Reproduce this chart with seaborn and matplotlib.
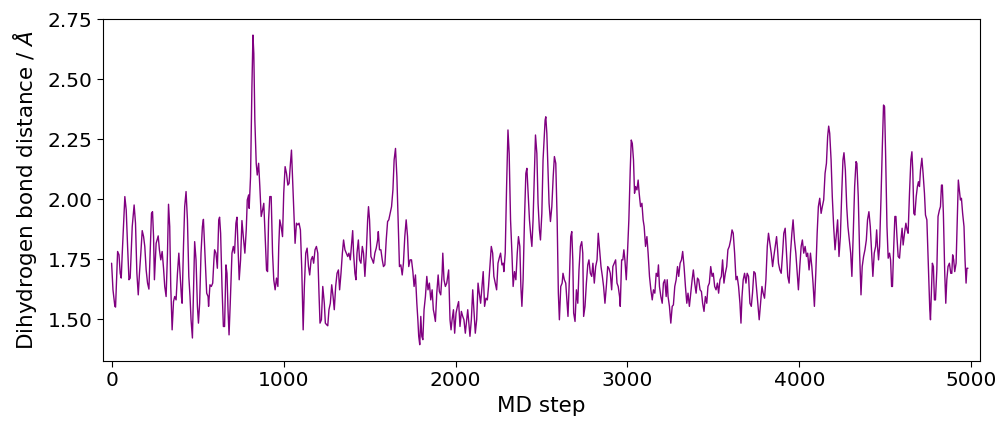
import numpy as np
import pandas as pd
import matplotlib
matplotlib.use("Agg")
import matplotlib.pyplot as plt
import seaborn as sns

# MD step values (local turning points)
steps = [
    0, 8, 19, 23, 35, 43, 50, 56, 62, 77, 85, 93, 101, 108, 120, 131, 139, 147, 155, 162,
    170, 178, 186, 193, 201, 209, 217, 224, 232, 238, 244, 249, 259, 271, 278, 286, 294, 302, 309, 317,
    325, 331, 338, 344, 352, 360, 367, 375, 383, 391, 398, 406, 410, 418, 425, 433, 441, 449, 456, 462,
    470, 477, 483, 491, 499, 505, 512, 520, 528, 534, 541, 553, 561, 564, 572, 580, 588, 595,
    599, 607, 615, 623, 628, 634, 642, 650, 657, 665, 671, 677, 683, 690, 700, 708, 715, 723, 729, 735,
    742, 750, 758, 766, 775, 783, 789, 797, 800, 808, 816, 822, 827, 833, 841, 847, 855, 862, 870, 878,
    885, 893, 901, 907, 913, 920, 928, 936, 943, 951, 959, 967, 972, 978, 986, 994, 1001, 1009, 1017, 1025,
    1032, 1040, 1046, 1052, 1059, 1067, 1075, 1083, 1090, 1098, 1106, 1114, 1121, 1129, 1137, 1145, 1152, 1160, 1168, 1175,
    1183, 1191, 1199, 1206, 1212, 1220, 1228,
    1237, 1243, 1251, 1257, 1264, 1272, 1280, 1288, 1295, 1303, 1311, 1319, 1326, 1334, 1342, 1349, 1357, 1365, 1373, 1380,
    1388, 1396, 1402, 1407, 1415, 1421, 1427, 1435, 1442, 1450, 1458, 1465, 1473, 1481, 1489, 1494, 1500, 1508, 1516, 1523,
    1531, 1539, 1547, 1551, 1558, 1566, 1574, 1581, 1589, 1597, 1605, 1612, 1620, 1628, 1636, 1643, 1651, 1659, 1667, 1674,
    1682, 1690, 1697, 1705, 1713, 1721, 1728, 1736, 1744, 1752, 1759, 1767, 1775, 1781, 1786, 1792, 1798, 1804, 1810, 1817,
    1825, 1833, 1840, 1848, 1856, 1864, 1871,
    1875, 1883, 1891, 1899, 1906, 1914, 1922, 1926, 1933, 1941, 1949, 1957, 1960, 1968, 1974, 1980, 1988, 1995, 2003, 2011,
    2018, 2026, 2034, 2042, 2049, 2057, 2065, 2071, 2076, 2084, 2092, 2100, 2107, 2115, 2123, 2131, 2138, 2146, 2154, 2161,
    2169, 2177, 2185, 2192, 2200, 2208, 2216, 2223, 2231, 2239, 2247, 2254, 2262, 2270, 2277, 2281, 2289, 2297, 2305, 2312,
    2320, 2328, 2335, 2343, 2351, 2359, 2366, 2374, 2380, 2386, 2393, 2401, 2409, 2415, 2422, 2430, 2438, 2444, 2451, 2459,
    2465, 2473, 2480, 2488, 2494, 2502, 2509,
    2521, 2525, 2531, 2537, 2544, 2552, 2560, 2568, 2575, 2583, 2591, 2598, 2604, 2612, 2620, 2625, 2633, 2641, 2649, 2654,
    2662, 2670, 2676, 2682, 2687, 2695, 2703, 2711, 2718, 2726, 2734, 2740, 2745, 2753, 2761, 2769, 2776, 2784, 2792, 2799,
    2807, 2815, 2823, 2830, 2838, 2846, 2854, 2861, 2869, 2877, 2885, 2892, 2900, 2908, 2915, 2923, 2931, 2939, 2946, 2954,
    2958, 2966, 2973, 2979, 2985, 2993, 3000, 3008, 3016, 3022, 3028, 3035, 3041, 3047, 3055, 3062, 3068, 3076, 3084, 3091,
    3097, 3105, 3113, 3120, 3128, 3136, 3144,
    3151, 3159, 3167, 3175, 3180, 3186, 3194, 3202, 3209, 3217, 3225, 3231, 3236, 3244, 3252, 3260, 3267, 3275, 3283, 3291,
    3298, 3306, 3314, 3321, 3329, 3337, 3345, 3352, 3360, 3368, 3376, 3383, 3391, 3399, 3407, 3414, 3422, 3430, 3437, 3445,
    3453, 3461, 3468, 3476, 3484, 3492, 3499, 3507, 3515, 3523, 3530, 3538, 3546, 3553, 3561, 3569, 3577, 3584, 3592, 3600,
    3608, 3615, 3623, 3631, 3638, 3646, 3654, 3660, 3666, 3673, 3681, 3689, 3696, 3704, 3712, 3720, 3727, 3735, 3743, 3751,
    3758, 3766, 3774, 3782,
    3789, 3797, 3805, 3813, 3820, 3828, 3836, 3844, 3851, 3859, 3867, 3873, 3878, 3886, 3894, 3902, 3909, 3917, 3925, 3932,
    3940, 3948, 3956, 3963, 3971, 3979, 3987, 3994, 4002, 4010, 4017, 4025, 4033, 4041, 4048, 4056, 4064, 4072, 4079, 4087,
    4095, 4103, 4110, 4118, 4126, 4133, 4141, 4149, 4157, 4164, 4170, 4176, 4184, 4191, 4199, 4207, 4215, 4222, 4230, 4238,
    4246, 4253, 4259, 4267, 4275, 4282, 4290, 4298, 4305, 4313, 4321, 4329, 4334, 4342, 4350, 4358, 4365, 4373, 4381, 4389,
    4396, 4404, 4412, 4420,
    4427, 4435, 4443, 4449, 4454, 4460, 4466, 4474, 4482, 4489, 4495, 4501, 4509, 4516, 4524, 4530, 4536, 4541, 4547, 4555,
    4561, 4567, 4574, 4582, 4590, 4597, 4603, 4611, 4619, 4626, 4632, 4640, 4648, 4654, 4659, 4665, 4671, 4679, 4686, 4692,
    4698, 4704, 4712, 4719, 4727, 4733, 4741, 4746, 4752, 4758, 4762, 4768, 4773, 4779, 4785, 4791, 4799, 4806, 4814, 4820,
    4826, 4831, 4837, 4845, 4851, 4857, 4864, 4872, 4880, 4886, 4891, 4897, 4903, 4911, 4918, 4924, 4930, 4936, 4942, 4949,
    4957, 4963, 4969, 4974, 4980,
]

# Dihydrogen bond distance values (Angstrom)
distance = [
    1.733, 1.622, 1.553, 1.550, 1.782, 1.768, 1.691, 1.671, 1.775, 2.011, 1.955, 1.803, 1.664, 1.671, 1.886, 1.976, 1.900, 1.691, 1.601, 1.691,
    1.775, 1.869, 1.844, 1.803, 1.705, 1.650, 1.625, 1.775, 1.941, 1.948, 1.844, 1.664, 1.816, 1.847, 1.789, 1.747, 1.782, 1.712, 1.636, 1.594,
    1.775, 1.979, 1.886, 1.636, 1.455, 1.573, 1.594, 1.580, 1.691, 1.775, 1.691, 1.594, 1.566, 1.803, 1.969, 2.032, 1.914, 1.678, 1.594, 1.497,
    1.421, 1.636, 1.823, 1.747, 1.553, 1.483, 1.566, 1.775, 1.886, 1.916, 1.803, 1.608, 1.594, 1.553, 1.643, 1.636, 1.650, 1.747,
    1.789, 1.775, 1.712, 1.914, 1.925, 1.858, 1.636, 1.469, 1.469, 1.726, 1.691, 1.539, 1.434, 1.566, 1.775, 1.803, 1.775, 1.900, 1.925, 1.803,
    1.664, 1.747, 1.911, 1.844, 1.775, 1.872, 1.997, 2.018, 1.962, 2.094, 2.469, 2.685, 2.608, 2.330, 2.150, 2.101, 2.150, 2.053, 1.928, 1.955,
    1.983, 1.844, 1.705, 1.698, 1.914, 2.011, 2.011, 1.775, 1.664, 1.622, 1.671, 1.636, 1.803, 1.914, 1.886, 1.844, 2.025, 2.136, 2.108, 2.059,
    2.066, 2.150, 2.205, 2.094, 1.969, 1.816, 1.900, 1.893, 1.900, 1.872, 1.705, 1.455, 1.636, 1.775, 1.796, 1.719, 1.684, 1.747, 1.761, 1.733,
    1.789, 1.803, 1.775, 1.608, 1.483, 1.497, 1.636,
    1.566, 1.483, 1.476, 1.472, 1.539, 1.566, 1.643, 1.594, 1.539, 1.636, 1.691, 1.705, 1.622, 1.691, 1.775, 1.830, 1.789, 1.775, 1.761, 1.775,
    1.747, 1.816, 1.869, 1.775, 1.691, 1.664, 1.775, 1.830, 1.747, 1.733, 1.803, 1.775, 1.678, 1.775, 1.914, 1.969, 1.914, 1.761, 1.747, 1.733,
    1.775, 1.796, 1.830, 1.865, 1.789, 1.789, 1.747, 1.719, 1.726, 1.830, 1.907, 1.914, 1.941, 1.969, 2.039, 2.164, 2.212, 2.094, 1.886, 1.719,
    1.726, 1.684, 1.733, 1.844, 1.914, 1.844, 1.719, 1.747, 1.747, 1.698, 1.636, 1.684, 1.566, 1.497, 1.428, 1.393, 1.511, 1.428, 1.414, 1.539,
    1.594, 1.678, 1.622, 1.650, 1.580, 1.622, 1.539,
    1.525, 1.490, 1.608, 1.684, 1.615, 1.601, 1.691, 1.775, 1.664, 1.636, 1.650, 1.691, 1.705, 1.497, 1.455, 1.497, 1.539, 1.441, 1.525, 1.553,
    1.573, 1.469, 1.532, 1.511, 1.497, 1.441, 1.497, 1.539, 1.497, 1.428, 1.497, 1.622, 1.539, 1.441, 1.497, 1.650, 1.608, 1.566, 1.636, 1.698,
    1.553, 1.587, 1.580, 1.636, 1.719, 1.803, 1.775, 1.678, 1.650, 1.622, 1.733, 1.754, 1.775, 1.726, 1.733, 1.698, 1.775, 2.053, 2.289, 2.191,
    1.914, 1.775, 1.636, 1.698, 1.664, 1.775, 1.844, 1.803, 1.636, 1.553, 1.664, 1.914, 2.108, 2.129, 2.025, 1.914, 1.844, 1.803, 1.914, 2.122,
    2.268, 2.191, 1.983, 1.872, 1.830, 1.941, 2.164,
    2.330, 2.344, 2.275, 2.136, 1.983, 1.907, 1.969, 2.094, 2.178, 2.150, 1.914, 1.608, 1.497, 1.636, 1.650, 1.691, 1.664, 1.650, 1.566, 1.511,
    1.664, 1.844, 1.865, 1.747, 1.525, 1.490, 1.622, 1.566, 1.705, 1.803, 1.823, 1.775, 1.511, 1.553, 1.650, 1.726, 1.747, 1.691, 1.678, 1.733,
    1.650, 1.719, 1.747, 1.858, 1.789, 1.719, 1.678, 1.636, 1.566, 1.636, 1.719, 1.712, 1.691, 1.622, 1.719, 1.733, 1.747, 1.650, 1.636, 1.594,
    1.553, 1.747, 1.747, 1.789, 1.747, 1.664, 1.775, 1.914, 2.122, 2.247, 2.233, 2.164, 2.025, 2.053, 2.039, 2.080, 2.025, 1.969, 1.983, 1.914,
    1.886, 1.803, 1.844, 1.775, 1.678, 1.622, 1.580,
    1.622, 1.608, 1.691, 1.678, 1.726, 1.636, 1.594, 1.566, 1.650, 1.664, 1.594, 1.664, 1.594, 1.553, 1.483, 1.553, 1.559, 1.636, 1.664, 1.719,
    1.678, 1.733, 1.747, 1.782, 1.719, 1.636, 1.566, 1.608, 1.553, 1.608, 1.664, 1.705, 1.650, 1.608, 1.671, 1.664, 1.622, 1.615, 1.566, 1.532,
    1.594, 1.566, 1.636, 1.650, 1.719, 1.678, 1.691, 1.636, 1.622, 1.650, 1.608, 1.664, 1.678, 1.747, 1.650, 1.691, 1.719, 1.789, 1.803, 1.830,
    1.872, 1.858, 1.775, 1.664, 1.678, 1.636, 1.566, 1.483, 1.594, 1.664, 1.691, 1.650, 1.691, 1.678, 1.566, 1.553, 1.608, 1.698, 1.691, 1.622,
    1.566, 1.497, 1.566, 1.636,
    1.608, 1.587, 1.664, 1.803, 1.858, 1.816, 1.775, 1.719, 1.761, 1.803, 1.844, 1.789, 1.733, 1.705, 1.691, 1.775, 1.858, 1.879, 1.775, 1.678,
    1.650, 1.775, 1.858, 1.914, 1.830, 1.775, 1.691, 1.622, 1.719, 1.803, 1.830, 1.775, 1.803, 1.761, 1.775, 1.705, 1.775, 1.719, 1.650, 1.553,
    1.691, 1.858, 1.969, 2.004, 1.941, 1.969, 1.997, 2.108, 2.150, 2.261, 2.305, 2.275, 2.164, 2.011, 1.886, 1.789, 1.858, 1.914, 1.761, 1.844,
    2.025, 2.164, 2.194, 2.122, 1.969, 1.886, 1.830, 1.775, 1.678, 1.858, 2.053, 2.157, 2.150, 2.011, 1.775, 1.601, 1.719, 1.761, 1.789, 1.830,
    1.914, 1.948, 1.886, 1.775,
    1.678, 1.775, 1.803, 1.872, 1.803, 1.747, 1.803, 1.997, 2.219, 2.393, 2.386, 2.191, 1.886, 1.754, 1.775, 1.747, 1.636, 1.636, 1.775, 1.928,
    1.928, 1.844, 1.761, 1.754, 1.830, 1.879, 1.809, 1.858, 1.900, 1.872, 1.858, 2.025, 2.164, 2.198, 2.122, 1.941, 1.934, 2.011, 2.053, 2.073,
    2.053, 2.122, 2.171, 2.108, 2.025, 1.934, 1.914, 1.803, 1.664, 1.539, 1.497, 1.622, 1.733, 1.719, 1.580, 1.580, 1.705, 1.928, 1.955, 1.969,
    2.059, 2.059, 1.941, 1.691, 1.566, 1.664, 1.719, 1.733, 1.691, 1.691, 1.768, 1.747, 1.698, 1.733, 1.914, 2.080, 2.039, 1.997, 2.004, 1.941,
    1.886, 1.747, 1.650, 1.712, 1.712,
]

x_ticks = [0, 1000, 2000, 3000, 4000, 5000]
y_ticks = [1.50, 1.75, 2.00, 2.25, 2.50, 2.75]

df = pd.DataFrame({"MD step": steps, "distance": distance})

sns.set_theme(style="ticks")
plt.rcParams["font.family"] = ["DejaVu Sans"]

fig = plt.figure(figsize=(10.02, 4.23), dpi=100)
ax = fig.add_axes([103 / 1002, 1 - 361 / 423, (980 - 103) / 1002, (361 - 19) / 423])

sns.lineplot(data=df, x="MD step", y="distance", ax=ax, color="#800080",
             linewidth=1.0, sort=False, estimator=None)

ax.set_xlim(-50, 5050)
ax.set_ylim(1.325, 2.752)
ax.set_xticks(x_ticks)
ax.set_yticks(y_ticks)
ax.set_yticklabels([f"{v:.2f}" for v in y_ticks])
ax.tick_params(labelsize=14.5, colors="black", length=4, width=0.8)
ax.set_xlabel("MD step", fontsize=15.5, color="black", labelpad=4)
ax.set_ylabel("Dihydrogen bond distance / $Å$", fontsize=15.5, color="black", labelpad=6)
for s in ax.spines.values():
    s.set_visible(True)
    s.set_color("black")
    s.set_linewidth(0.8)

fig.savefig("out.png", dpi=100, facecolor="white")
